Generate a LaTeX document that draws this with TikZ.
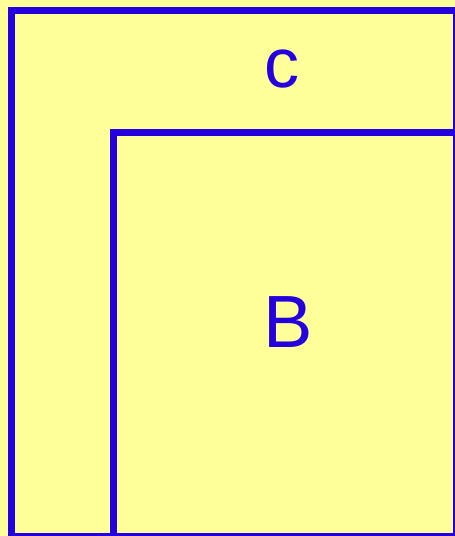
\documentclass[tikz,border=0pt]{standalone}
\usepackage{fontspec}
\setmainfont{Liberation Sans}
\definecolor{fillyel}{RGB}{255,255,153}
\definecolor{edgeblue}{RGB}{36,0,222}
\tikzset{
  box/.style={draw=edgeblue, fill=fillyel, line width=7pt, line join=miter},
  lbl/.style={text=edgeblue, anchor=base, inner sep=0pt}
}
\begin{document}
\begin{tikzpicture}[x=1pt,y=-1pt]
\useasboundingbox (0,0) rectangle (455,536);
\clip (0,0) rectangle (455,536);
\fill[fillyel] (0,0) rectangle (455,536);
\draw[box] (11,10) rectangle (456,536);
\draw[box] (113,132) rectangle (456,536);
\node[lbl, font=\fontsize{70}{74}\selectfont] (c) at (281.5,87.5) {c};
\node[lbl, font=\fontsize{74}{78}\selectfont] (b) at (288,347.5) {B};
\end{tikzpicture}
\end{document}
